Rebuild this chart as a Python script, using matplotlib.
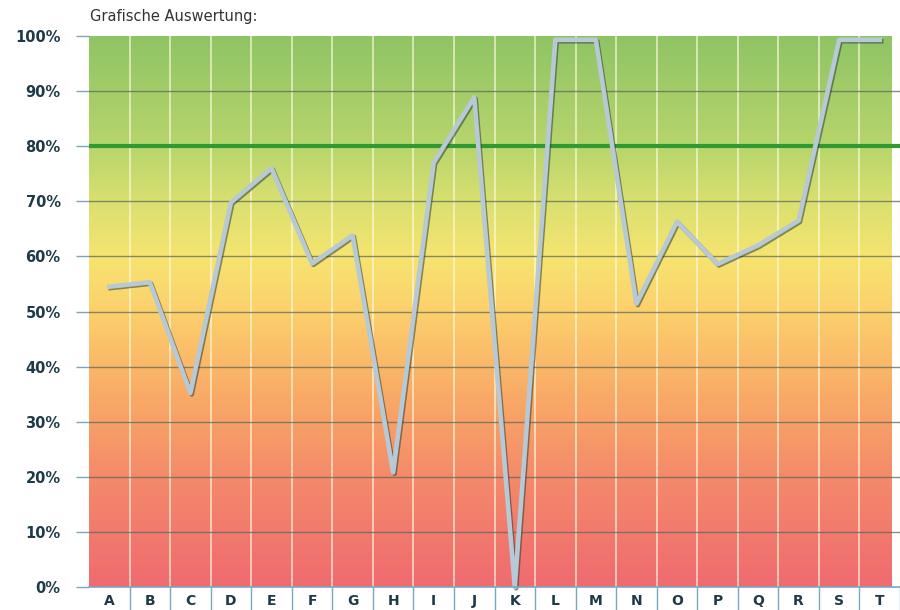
import matplotlib
matplotlib.use("Agg")
import matplotlib.pyplot as plt
import numpy as np
import matplotlib.patheffects as pe
from matplotlib.colors import LinearSegmentedColormap

categories = ['A', 'B', 'C', 'D', 'E', 'F', 'G', 'H', 'I', 'J',
              'K', 'L', 'M', 'N', 'O', 'P', 'Q', 'R', 'S', 'T']
values = [54.5, 55.3, 35.2, 69.8, 76.0, 58.7, 63.8, 20.8, 77.0, 88.9,
          0.0, 99.3, 99.3, 51.4, 66.3, 58.6, 62.0, 66.5, 99.3, 99.3]
target = 80
yticks = [0, 10, 20, 30, 40, 50, 60, 70, 80, 90, 100]

grad = LinearSegmentedColormap.from_list("ampel", [
    (0.00, "#ef6b70"),
    (0.20, "#f48a6a"),
    (0.35, "#f9ab66"),
    (0.50, "#fcd06c"),
    (0.60, "#f6e470"),
    (0.70, "#d9e070"),
    (0.80, "#b8d56c"),
    (1.00, "#8fc465"),
])

fig = plt.figure(figsize=(9, 6.1), dpi=100)
ax = fig.add_axes([89/900, 1 - 587/610, 1 - 89/900, (587 - 36)/610])

x = np.arange(len(categories))
xmax = -0.5 + 811/41.0
ax.set_xlim(-0.5, xmax)
ax.set_ylim(0, 100)

g = np.linspace(0, 1, 256).reshape(-1, 1)
ax.imshow(g, cmap=grad, origin='lower', aspect='auto',
          extent=(-0.5, xmax, 0, 100), zorder=0)

# column separators
for b in np.arange(0.5, len(categories), 1.0):
    ax.axvline(b, color='#fffbe0', lw=1.1, alpha=0.8, zorder=1)

# horizontal grid
for t in yticks[1:-1]:
    ax.axhline(t, color='#5f6a5c', lw=1.0, alpha=0.75, zorder=2)

ax.axhline(target, color='#2f9a32', lw=3, zorder=3)

ax.plot(x, values, color='#b6c9d5', lw=3.3, zorder=4, clip_on=False,
        path_effects=[pe.SimpleLineShadow(offset=(1.0, -1.0), shadow_color='#2c3a34', alpha=0.55),
                      pe.Normal()])

for s in ['top', 'right', 'left']:
    ax.spines[s].set_visible(False)
ax.spines['bottom'].set_color('#7aa6be')
ax.spines['bottom'].set_linewidth(1.2)
ax.spines['bottom'].set_zorder(5)

ax.set_yticks(yticks)
ax.set_yticklabels([f"{t}%" for t in yticks])
ax.tick_params(axis='y', length=9.4, color='#7aa6be', width=1, pad=11,
               labelsize=10.5, labelcolor='#1f3a47')
for lab in ax.get_yticklabels():
    lab.set_fontweight('bold')

ax.set_xticks(x)
ax.set_xticklabels(categories, fontsize=10, fontweight='bold', color='#1f3a47')
ax.tick_params(axis='x', length=0, pad=5)
ax.set_xticks(np.arange(0.5, len(categories), 1.0), minor=True)
ax.tick_params(axis='x', which='minor', length=20, color='#7aa6be', width=1)

fig.text(90/900, 1 - 17/610, "Grafische Auswertung:", fontsize=10.5,
         color='#333333', va='center', ha='left')

fig.savefig("out.png", dpi=100)
